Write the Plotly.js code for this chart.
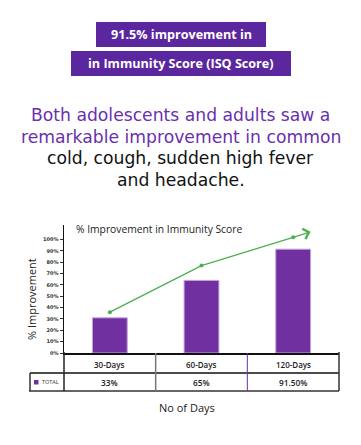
<!DOCTYPE html>
<html>
<head>
<meta charset="utf-8">
<script src="https://cdn.plot.ly/plotly-3.0.1.min.js"></script>
<style>
html,body{margin:0;padding:0;background:#fff;}
#chart{width:361px;height:445px;}
</style>
</head>
<body>
<div id="chart"></div>
<script>
// ---- data ----
const categories = ['30-Days', '60-Days', '120-Days'];
const barValues = [31, 64, 91.5];          // bar heights
const trendValues = [36, 77, 102];         // green trend line
const tableLabels = ['33%', '65%', '91.50%'];
const seriesName = 'TOTAL';
const yTickVals = [0, 10, 20, 30, 40, 50, 60, 70, 80, 90, 100];
const yTickText = yTickVals.map(v => v + '%');
const badgeLines = ['91.5% improvement in', 'in Immunity Score (ISQ Score)'];
const headlinePurple = ['Both adolescents and adults saw a', 'remarkable improvement in common'];
const headlineBlack = ['cold, cough, sudden high fever', 'and headache.'];
const chartTitle = '% Improvement in Immunity Score';
const yTitle = '% Improvement';
const xTitle = 'No of Days';

// ---- helpers ----
const W = 361, H = 445;
const px = x => x / W;
const py = y => 1 - y / H;
const xIdx = categories.map((c, i) => i);
const PURPLE = '#7030A0';
const BADGE = '#5B279E';
const GREEN = '#4CB050';
const FONT = 'Open Sans, Lato, sans-serif';
const WIDE = 'DejaVu Sans, sans-serif';

const traces = [
  {
    type: 'bar', x: xIdx, y: barValues, name: seriesName, width: 0.38,
    marker: {color: PURPLE, line: {color: '#c2a6dc', width: 1}},
    hoverinfo: 'skip', showlegend: false
  },
  {
    type: 'scatter', mode: 'lines+markers', x: xIdx, y: trendValues,
    line: {color: GREEN, width: 1.3}, marker: {color: GREEN, size: 4},
    hoverinfo: 'skip', showlegend: false
  }
];

const annotations = [];
const shapes = [];

// badges
const badgeBoxes = [[96, 266, 22, 47], [71, 291, 51, 76]];
badgeLines.forEach((t, i) => {
  const b = badgeBoxes[i];
  shapes.push({type: 'rect', xref: 'paper', yref: 'paper', x0: px(b[0]), x1: px(b[1]), y0: py(b[3]), y1: py(b[2]),
    fillcolor: BADGE, line: {width: 0}, layer: 'below'});
  annotations.push({xref: 'paper', yref: 'paper', x: px((b[0] + b[1]) / 2), y: py((b[2] + b[3]) / 2),
    text: '<b>' + t + '</b>', showarrow: false, xanchor: 'center', yanchor: 'middle',
    font: {family: FONT, size: 12.6, color: '#fff'}});
});

// headline
const hy = [115, 136.5, 158.5, 180];
headlinePurple.concat(headlineBlack).forEach((t, i) => {
  annotations.push({xref: 'paper', yref: 'paper', x: 0.5, y: py(hy[i]), text: t, showarrow: false,
    xanchor: 'center', yanchor: 'middle',
    font: {family: WIDE, size: 17.2, color: i < 2 ? '#6A2FAE' : '#111'}});
});

// chart title
annotations.push({xref: 'paper', yref: 'paper', x: px(74), y: py(229), text: chartTitle, showarrow: false,
  xanchor: 'left', yanchor: 'middle', font: {family: FONT, size: 10.3, color: '#222'}});
// y title
annotations.push({xref: 'paper', yref: 'paper', x: px(31), y: py(299), text: yTitle, showarrow: false,
  textangle: -90, xanchor: 'center', yanchor: 'middle', font: {family: FONT, size: 11, color: '#222'}});
// x title
annotations.push({xref: 'paper', yref: 'paper', x: px(187), y: py(407), text: xTitle, showarrow: false,
  xanchor: 'center', yanchor: 'middle', font: {family: FONT, size: 11, color: '#222'}});

// arrow tip extending the trend
const n = trendValues.length;
const tipX = xIdx[n - 1] + 0.19 * (xIdx[n - 1] - xIdx[n - 2]);
const tipY = trendValues[n - 1] + 0.19 * (trendValues[n - 1] - trendValues[n - 2]);
annotations.push({xref: 'x', yref: 'y', axref: 'x', ayref: 'y', x: tipX, y: tipY,
  ax: xIdx[n - 1], ay: trendValues[n - 1], showarrow: true, arrowhead: 4, arrowsize: 1.6,
  arrowwidth: 1.3, arrowcolor: GREEN, text: ''});

// data table
categories.forEach((c, i) => {
  annotations.push({xref: 'x', yref: 'paper', x: xIdx[i], y: py(364), text: c, showarrow: false,
    xanchor: 'center', yanchor: 'middle', font: {family: FONT, size: 8, weight: 600, color: '#222'}});
  annotations.push({xref: 'x', yref: 'paper', x: xIdx[i], y: py(382.5), text: tableLabels[i], showarrow: false,
    xanchor: 'center', yanchor: 'middle', font: {family: FONT, size: 8.3, weight: 600, color: '#222'}});
});
annotations.push({xref: 'paper', yref: 'paper', x: px(39.5), y: py(382), text: seriesName, showarrow: false,
  xanchor: 'left', yanchor: 'middle', font: {family: FONT, size: 5.5, color: '#333'}});
shapes.push({type: 'rect', xref: 'paper', yref: 'paper', x0: px(34), x1: px(38.5), y0: py(384.5), y1: py(380),
  fillcolor: PURPLE, line: {width: 0}});

const line = (x0, y0, x1, y1, color, width, xref) => ({type: 'line', xref: xref || 'paper', yref: 'paper',
  x0: x0, x1: x1, y0: y0, y1: y1, line: {color: color, width: width}});
shapes.push(line(px(64), py(373), px(339), py(373), '#111', 1.5));
shapes.push(line(px(30), py(373), px(64), py(373), '#111', 1.5));
shapes.push(line(px(29), py(391), px(339), py(391), '#666', 2));
shapes.push(line(px(30), py(373), px(30), py(391), '#333', 1.5));
shapes.push(line(px(64), py(352), px(64), py(391), '#222', 1.5));
shapes.push(line(px(339), py(352), px(339), py(391), '#333', 1.5));
shapes.push(line(0.5, py(353), 0.5, py(391), '#777', 1.5, 'x'));
shapes.push(line(1.5, py(353), 1.5, py(391), PURPLE, 1, 'x'));

const layout = {
  width: W, height: H, margin: {l: 0, r: 0, t: 0, b: 0},
  paper_bgcolor: '#fff', plot_bgcolor: '#fff', showlegend: false,
  xaxis: {domain: [px(64), px(339)], range: [-0.5, 2.5], showgrid: false, zeroline: false,
    showticklabels: false, showline: true, linecolor: '#111', linewidth: 2, ticks: '', fixedrange: true},
  yaxis: {domain: [py(353), py(225)], range: [0, 112.8], showgrid: false, zeroline: false,
    tickvals: yTickVals, ticktext: yTickText, ticks: 'outside', ticklen: 3, tickwidth: 1, tickcolor: '#333',
    tickfont: {family: 'DejaVu Sans', size: 5, weight: 'bold', color: '#333'},
    showline: true, linecolor: '#111', linewidth: 1.5, fixedrange: true},
  annotations: annotations, shapes: shapes
};

Plotly.newPlot('chart', traces, layout, {displayModeBar: false, staticPlot: true});
</script>
</body>
</html>
